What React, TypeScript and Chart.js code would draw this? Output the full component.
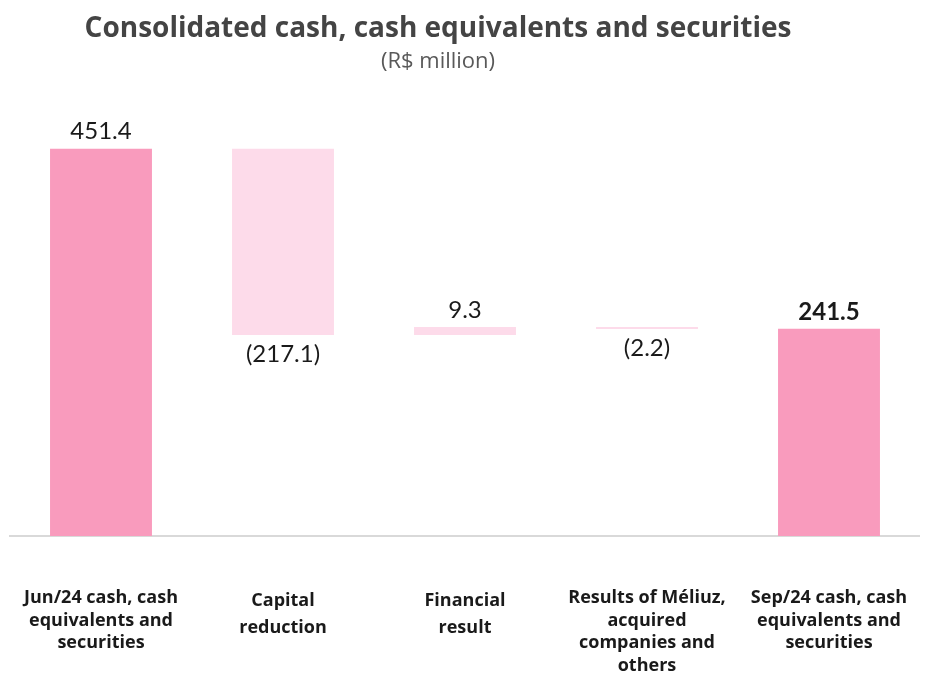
import React, { useEffect, useRef } from "react";
import { Chart, registerables } from "chart.js";

Chart.register(...registerables);

const categories: string[][] = [
  ["Jun/24 cash, cash", "equivalents and", "securities"],
  ["Capital", "reduction"],
  ["Financial", "result"],
  ["Results of Méliuz,", "acquired", "companies and", "others"],
  ["Sep/24 cash, cash", "equivalents and", "securities"],
];
const values = [451.4, -217.1, 9.3, -2.2, 241.5];
const kinds = ["total", "change", "change", "change", "total"];
const valueLabels = ["451.4", "(217.1)", "9.3", "(2.2)", "241.5"];
const boldLabel = [false, false, false, false, true];

const titleText = "Consolidated cash, cash equivalents and securities";
const subtitleText = "(R$ million)";

const TOTAL_COLOR = "#F99BBD";
const CHANGE_COLOR = "#FDDBEA";

export default function App() {
  const ref = useRef<HTMLCanvasElement | null>(null);

  useEffect(() => {
    if (!ref.current) return;
    let running = 0;
    const ranges = values.map((v, i) => {
      if (kinds[i] === "total") {
        running = v;
        return [0, v];
      }
      const start = running;
      running = running + v;
      return [start, running];
    });

    const titlePlugin = {
      id: "titles",
      beforeDraw(chart: any) {
        const ctx = chart.ctx;
        ctx.save();
        ctx.textAlign = "center";
        ctx.textBaseline = "middle";
        ctx.fillStyle = "#444444";
        ctx.font = "bold 28px 'Open Sans'";
        ctx.fillText(titleText, 438, 29);
        ctx.fillStyle = "#595959";
        ctx.font = "22px 'Open Sans'";
        ctx.fillText(subtitleText, 438, 62);
        ctx.restore();
      },
    };

    const valuePlugin = {
      id: "values",
      afterDatasetsDraw(chart: any) {
        const ctx = chart.ctx;
        const meta = chart.getDatasetMeta(0);
        ctx.save();
        ctx.textAlign = "center";
        ctx.textBaseline = "middle";
        ctx.fillStyle = "#1a1a1a";
        meta.data.forEach((bar: any, i: number) => {
          const { x, y, base } = bar.getProps(["x", "y", "base"], true);
          const top = Math.min(y, base);
          const bottom = Math.max(y, base);
          ctx.font = (boldLabel[i] ? "bold " : "") + "24px Lato";
          if (values[i] < 0) ctx.fillText(valueLabels[i], x, bottom + 19);
          else ctx.fillText(valueLabels[i], x, top - 17);
        });
        ctx.restore();
      },
    };

    const chart = new Chart(ref.current, {
      type: "bar",
      data: {
        labels: categories,
        datasets: [
          {
            data: ranges as any,
            backgroundColor: kinds.map((k) => (k === "total" ? TOTAL_COLOR : CHANGE_COLOR)),
            borderWidth: 0,
            barPercentage: 0.56,
            categoryPercentage: 1,
          },
        ],
      },
      options: {
        responsive: false,
        animation: false,
        layout: { padding: { left: 10, right: 0, top: 107, bottom: 0 } },
        plugins: {
          legend: { display: false },
          tooltip: { enabled: false },
          title: { display: false },
        },
        scales: {
          x: {
            offset: true,
            grid: { display: false, drawTicks: true, tickLength: 48 },
            border: { display: true, color: "#D9D9D9", width: 2 },
            ticks: {
              padding: 3,
              autoSkip: false,
              maxRotation: 0,
              minRotation: 0,
              color: "#1a1a1a",
              font: (c: any) => ({
                family: "'Open Sans'",
                weight: "bold",
                size: 18,
                lineHeight: categories[c.index] && categories[c.index].length === 2 ? 1.5 : 1.25,
              }),
            },
            afterFit: (s: any) => {
              s.height = 139;
            },
          },
          y: {
            display: false,
            min: 0,
            max: 500,
          },
        },
      },
      plugins: [titlePlugin, valuePlugin],
    });
    return () => chart.destroy();
  }, []);

  return (
    <div style={{ position: "absolute", left: 0, top: 0, width: 926, height: 675, overflow: "hidden", background: "#ffffff" }}>
      <canvas ref={ref} width={920} height={675} style={{ display: "block", width: 920, height: 675 }} />
    </div>
  );
}
